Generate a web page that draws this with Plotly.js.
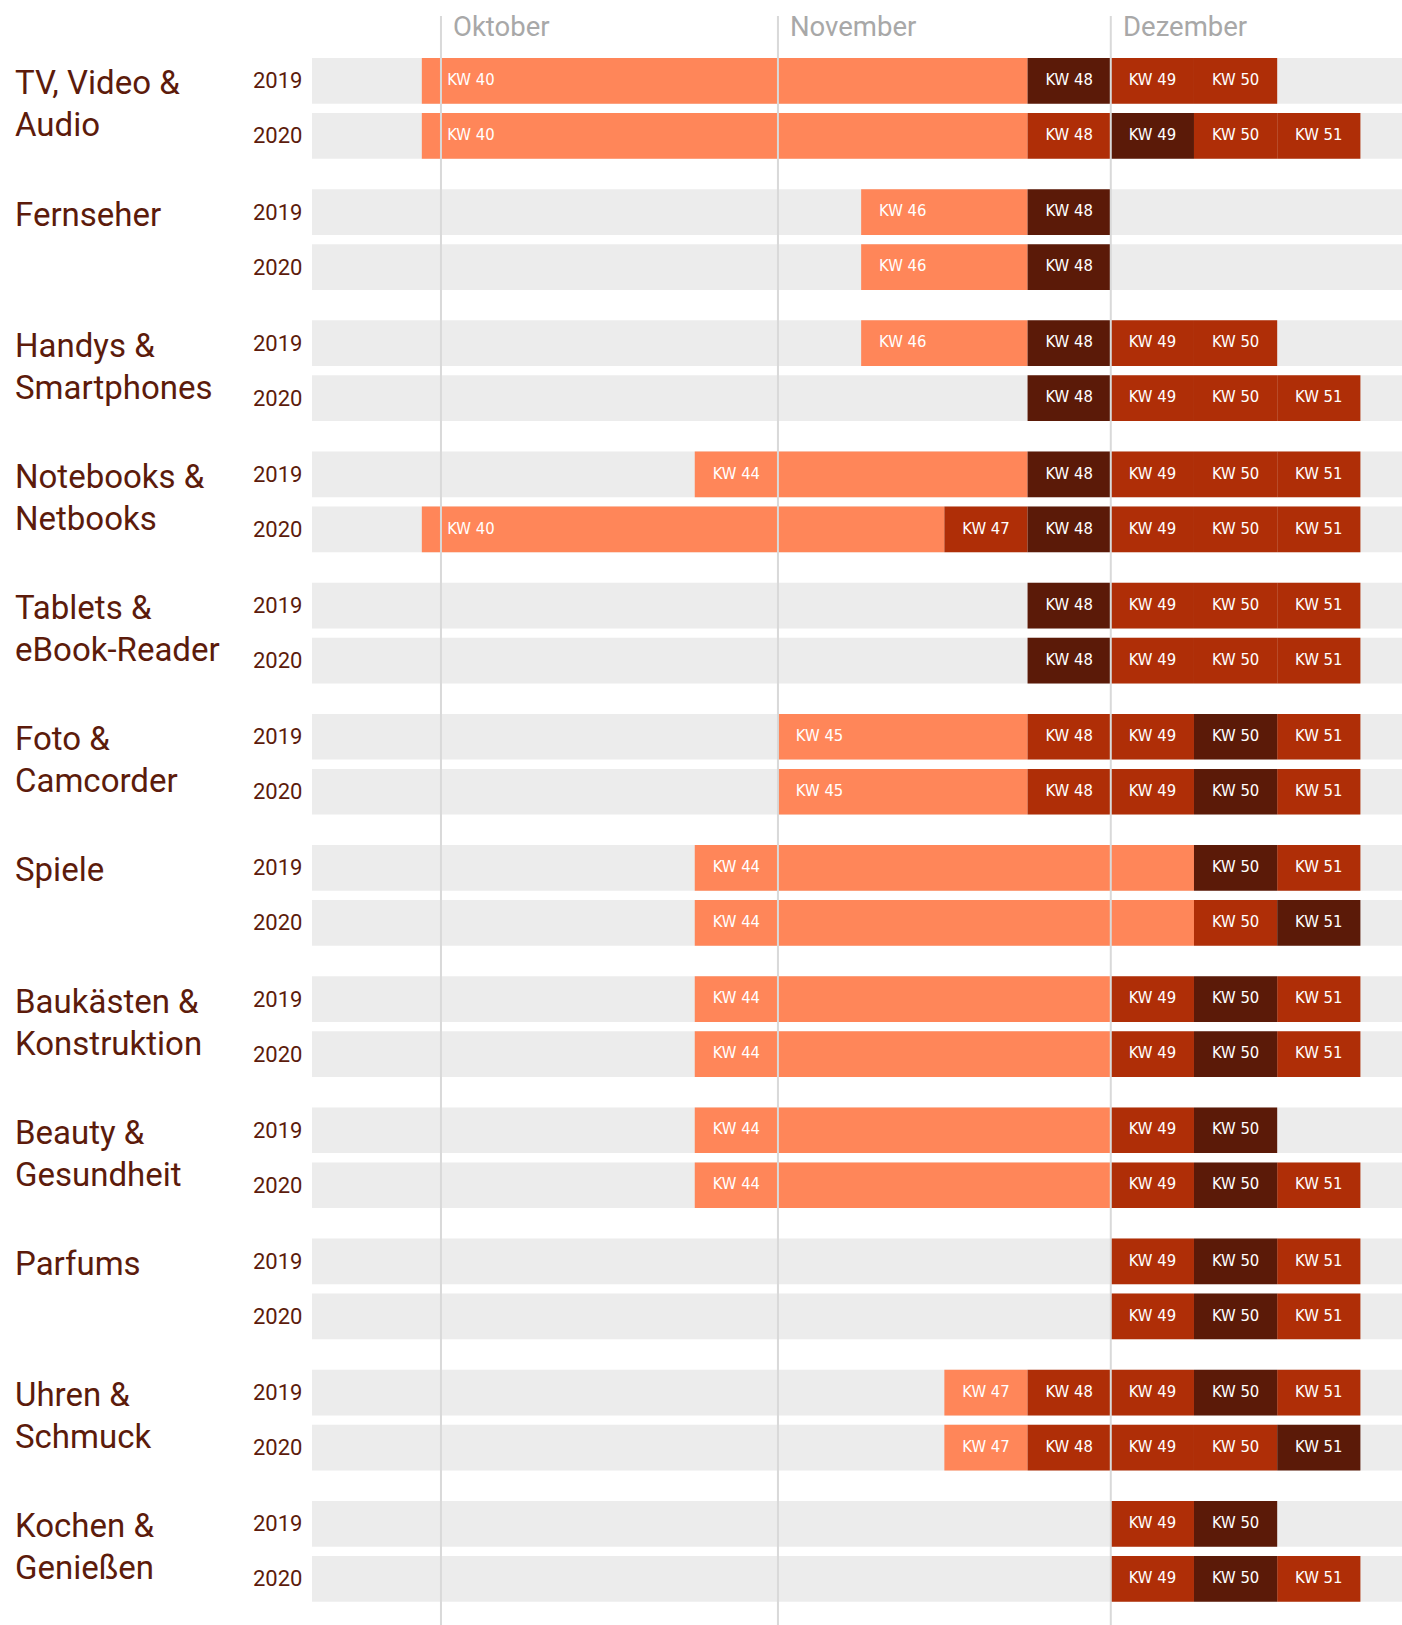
<!DOCTYPE html>
<html>
<head>
<meta charset="utf-8">
<script src="https://cdn.plot.ly/plotly-3.0.1.min.js"></script>
<style>
  html, body { margin: 0; padding: 0; background: #ffffff; }
  #chart { width: 1402px; height: 1625px; }
</style>
</head>
<body>
<div id="chart"></div>
<script>
// ---------------- DATA ----------------
const categories = [
  "TV, Video &<br>Audio", "Fernseher", "Handys &<br>Smartphones", "Notebooks &<br>Netbooks",
  "Tablets &<br>eBook-Reader", "Foto &<br>Camcorder", "Spiele", "Baukästen &<br>Konstruktion",
  "Beauty &<br>Gesundheit", "Parfums", "Uhren &<br>Schmuck", "Kochen &<br>Genießen"
];
const years = ["2019", "2020"];

const monthLabels = ["Oktober", "November", "Dezember"];
const monthStartKW = [40.95, 45, 49];

// segment: [start KW, end KW, label, shade]  shade: l = light, m = medium, d = dark
const schedule2019 = [
  [[40.72, 48, "KW 40", "l"], [48, 49, "KW 48", "d"], [49, 50, "KW 49", "m"], [50, 51, "KW 50", "m"]],
  [[46, 48, "KW 46", "l"], [48, 49, "KW 48", "d"]],
  [[46, 48, "KW 46", "l"], [48, 49, "KW 48", "d"], [49, 50, "KW 49", "m"], [50, 51, "KW 50", "m"]],
  [[44, 48, "KW 44", "l"], [48, 49, "KW 48", "d"], [49, 50, "KW 49", "m"], [50, 51, "KW 50", "m"], [51, 52, "KW 51", "m"]],
  [[48, 49, "KW 48", "d"], [49, 50, "KW 49", "m"], [50, 51, "KW 50", "m"], [51, 52, "KW 51", "m"]],
  [[45, 48, "KW 45", "l"], [48, 49, "KW 48", "m"], [49, 50, "KW 49", "m"], [50, 51, "KW 50", "d"], [51, 52, "KW 51", "m"]],
  [[44, 50, "KW 44", "l"], [50, 51, "KW 50", "d"], [51, 52, "KW 51", "m"]],
  [[44, 49, "KW 44", "l"], [49, 50, "KW 49", "m"], [50, 51, "KW 50", "d"], [51, 52, "KW 51", "m"]],
  [[44, 49, "KW 44", "l"], [49, 50, "KW 49", "m"], [50, 51, "KW 50", "d"]],
  [[49, 50, "KW 49", "m"], [50, 51, "KW 50", "d"], [51, 52, "KW 51", "m"]],
  [[47, 48, "KW 47", "l"], [48, 49, "KW 48", "m"], [49, 50, "KW 49", "m"], [50, 51, "KW 50", "d"], [51, 52, "KW 51", "m"]],
  [[49, 50, "KW 49", "m"], [50, 51, "KW 50", "d"]]
];
const schedule2020 = [
  [[40.72, 48, "KW 40", "l"], [48, 49, "KW 48", "m"], [49, 50, "KW 49", "d"], [50, 51, "KW 50", "m"], [51, 52, "KW 51", "m"]],
  [[46, 48, "KW 46", "l"], [48, 49, "KW 48", "d"]],
  [[48, 49, "KW 48", "d"], [49, 50, "KW 49", "m"], [50, 51, "KW 50", "m"], [51, 52, "KW 51", "m"]],
  [[40.72, 47, "KW 40", "l"], [47, 48, "KW 47", "m"], [48, 49, "KW 48", "d"], [49, 50, "KW 49", "m"], [50, 51, "KW 50", "m"], [51, 52, "KW 51", "m"]],
  [[48, 49, "KW 48", "d"], [49, 50, "KW 49", "m"], [50, 51, "KW 50", "m"], [51, 52, "KW 51", "m"]],
  [[45, 48, "KW 45", "l"], [48, 49, "KW 48", "m"], [49, 50, "KW 49", "m"], [50, 51, "KW 50", "d"], [51, 52, "KW 51", "m"]],
  [[44, 50, "KW 44", "l"], [50, 51, "KW 50", "m"], [51, 52, "KW 51", "d"]],
  [[44, 49, "KW 44", "l"], [49, 50, "KW 49", "m"], [50, 51, "KW 50", "d"], [51, 52, "KW 51", "m"]],
  [[44, 49, "KW 44", "l"], [49, 50, "KW 49", "m"], [50, 51, "KW 50", "d"], [51, 52, "KW 51", "m"]],
  [[49, 50, "KW 49", "m"], [50, 51, "KW 50", "d"], [51, 52, "KW 51", "m"]],
  [[47, 48, "KW 47", "l"], [48, 49, "KW 48", "m"], [49, 50, "KW 49", "m"], [50, 51, "KW 50", "m"], [51, 52, "KW 51", "d"]],
  [[49, 50, "KW 49", "m"], [50, 51, "KW 50", "d"], [51, 52, "KW 51", "m"]]
];

// ---------------- STYLE / LAYOUT ----------------
const shadeColors = { l: "#FF8659", m: "#AF2E07", d: "#5B1A08" };
const textColor = "#5C1B0B";
const GROUP_PITCH = 2.385;   // in row units (1 unit = in-group row pitch)
const BAR_W = 0.831;
const X_RANGE = [39.4, 52.5];
const Y_RANGE = [28.075, -1.47];
const H = 1625;
const LABEL_CLEAR = 0.36;    // label centre distance (weeks) right of a month line it would cross

function rowY(g, r) { return g * GROUP_PITCH + r; }

const schedules = [schedule2019, schedule2020];
const traces = [];
["l", "m", "d"].forEach(shade => {
  const ys = [], bases = [], lens = [];
  schedules.forEach((sched, r) => {
    sched.forEach((segs, g) => {
      segs.forEach(s => {
        if (s[3] === shade) { ys.push(rowY(g, r)); bases.push(s[0]); lens.push(s[1] - s[0]); }
      });
    });
  });
  traces.push({
    type: "bar", orientation: "h", y: ys, x: lens, base: bases,
    width: ys.map(() => BAR_W),
    marker: { color: shadeColors[shade], line: { width: 0 } },
    hoverinfo: "skip", showlegend: false
  });
});

// KW labels (centered in first week of each segment, kept clear of month lines)
function labelX(start) {
  let x = start + 0.5;
  monthStartKW.forEach(m => {
    if (m > start + 0.05 && m < start + 1) x = Math.max(x, m + LABEL_CLEAR);
  });
  return x;
}
const lx = [], ly = [], lt = [];
schedules.forEach((sched, r) => {
  sched.forEach((segs, g) => {
    segs.forEach(s => { lx.push(labelX(s[0])); ly.push(rowY(g, r)); lt.push(s[2]); });
  });
});
traces.push({
  type: "scatter", mode: "text", x: lx, y: ly, text: lt,
  textposition: "middle center",
  textfont: { family: "DejaVu Sans Condensed, DejaVu Sans, sans-serif", size: 16.5, color: "#ffffff" },
  hoverinfo: "skip", showlegend: false, cliponaxis: false
});

const shapes = [];
const annotations = [];

// background rows, year and category labels
categories.forEach((c, g) => {
  years.forEach((yr, r) => {
    const yc = rowY(g, r);
    shapes.push({
      type: "rect", layer: "below", xref: "paper", yref: "y",
      x0: 0, x1: 1, y0: yc - BAR_W / 2, y1: yc + BAR_W / 2,
      fillcolor: "#ECECEC", line: { width: 0 }
    });
    annotations.push({
      xref: "paper", yref: "y", x: 0, y: yc, xanchor: "right", yanchor: "middle",
      xshift: -8, text: yr, showarrow: false,
      font: { family: "Roboto, sans-serif", size: 22, color: textColor }
    });
  });
  const lines = c.split("<br>");
  lines.forEach((ln, i) => {
    annotations.push({
      xref: "paper", yref: "y", x: 0, y: rowY(g, 0), xanchor: "left", yanchor: "middle",
      xshift: -299, yshift: -(2 + i * 42), text: ln, showarrow: false,
      font: { family: "Roboto, sans-serif", size: 33, color: textColor }
    });
  });
});

// month lines and labels
monthLabels.forEach((m, i) => {
  shapes.push({
    type: "line", layer: "above", xref: "x", yref: "paper",
    x0: monthStartKW[i], x1: monthStartKW[i], y0: 0, y1: 1 - 16 / H,
    line: { color: "#D9D9D9", width: 2 }
  });
  annotations.push({
    xref: "x", yref: "paper", x: monthStartKW[i], y: 1 - 27 / H,
    xanchor: "left", yanchor: "middle", xshift: 10, text: m, showarrow: false,
    font: { family: "Roboto, sans-serif", size: 27.5, color: "#A8A8A8" }
  });
});

const layout = {
  width: 1402, height: H,
  margin: { l: 312, r: 0, t: 0, b: 0, pad: 0 },
  paper_bgcolor: "#ffffff", plot_bgcolor: "#ffffff",
  barmode: "overlay",
  xaxis: { range: X_RANGE, visible: false, showgrid: false, zeroline: false, fixedrange: true },
  yaxis: { range: Y_RANGE, visible: false, showgrid: false, zeroline: false, fixedrange: true },
  shapes: shapes, annotations: annotations, showlegend: false
};

Plotly.newPlot("chart", traces, layout, { displayModeBar: false, staticPlot: true });
</script>
</body>
</html>
